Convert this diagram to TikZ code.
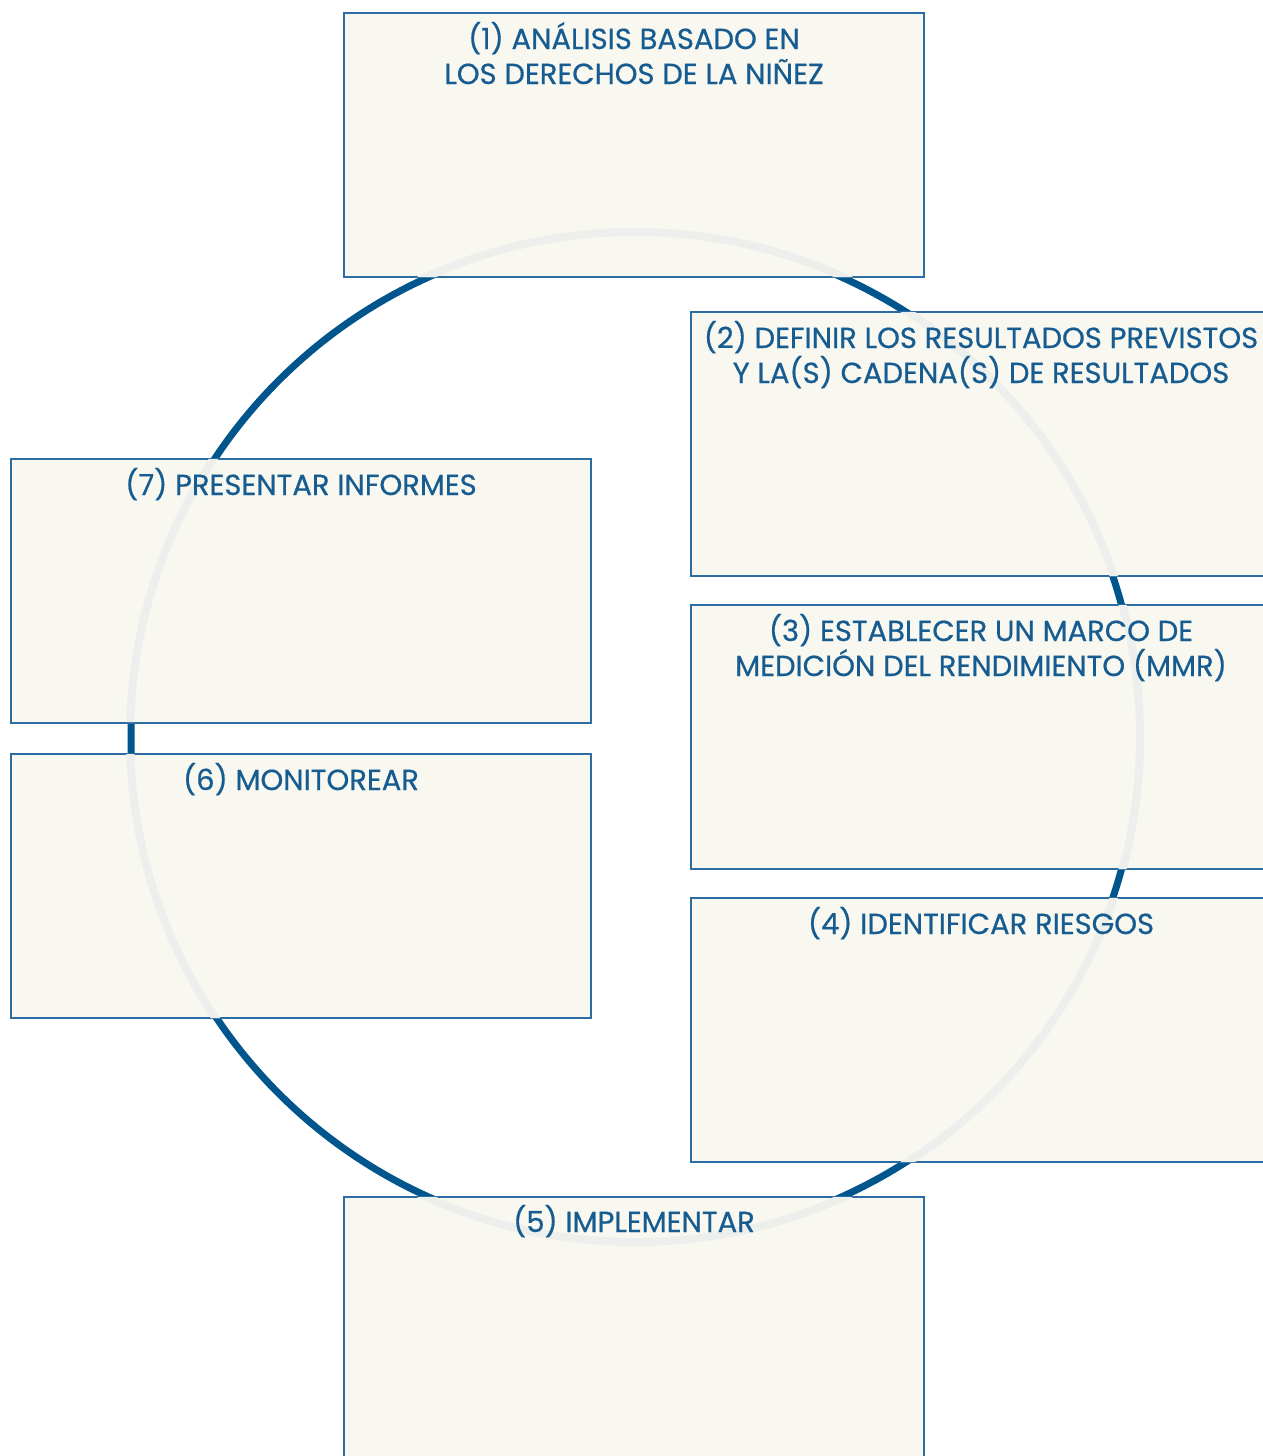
\documentclass[tikz,border=0pt]{standalone}
\usepackage{fontspec}
\newfontfamily\titlefont[FakeBold=0.6]{Poppins}
\definecolor{ringblue}{HTML}{00558C}
\definecolor{textblue}{HTML}{175C90}
\definecolor{edgeblue}{HTML}{2C6DA3}
\definecolor{boxfill}{HTML}{F8F8F0}
\definecolor{ringgray}{HTML}{ECEFEB}
\tikzset{
  stepbox/.style={draw=edgeblue, line width=1.1pt, fill=boxfill, anchor=north west,
    minimum width=580pt, minimum height=264pt, inner sep=0pt, outer sep=0pt},
  titletext/.style={anchor=base, inner sep=0pt, text=textblue,
    font=\titlefont\fontsize{29}{35}\selectfont},
}
\begin{document}
\begin{tikzpicture}[x=1pt,y=-1pt]
\useasboundingbox (0,0) rectangle (1263,1456);
\coordinate (ctr) at (635,737);
% blue ring under the boxes
\draw[ringblue, line width=7pt] (ctr) circle[radius=504pt];
% boxes
\node[stepbox] (b1) at (344,13) {};
\node[stepbox] (b2) at (691,312) {};
\node[stepbox] (b3) at (691,605) {};
\node[stepbox] (b4) at (691,898) {};
\node[stepbox] (b5) at (344,1197) {};
\node[stepbox] (b7) at (11,459) {};
\node[stepbox] (b6) at (11,754) {};
% faint ring seen through the boxes
\begin{scope}
\clip (344,13) rectangle (924,277)
      (691,312) rectangle (1271,576)
      (691,605) rectangle (1271,869)
      (691,898) rectangle (1271,1162)
      (344,1197) rectangle (924,1461)
      (11,459) rectangle (591,722)
      (11,754) rectangle (591,1018);
\draw[ringgray, line width=8pt] (ctr) circle[radius=505pt];
\end{scope}
% titles
\node[titletext] (t1a) at (634,49) {(1) ANÁLISIS BASADO EN};
\node[titletext] (t1b) at (634,84) {LOS DERECHOS DE LA NIÑEZ};
\node[titletext] (t2a) at (981,348) {(2) DEFINIR LOS RESULTADOS PREVISTOS};
\node[titletext] (t2b) at (981,383) {Y LA(S) CADENA(S) DE RESULTADOS};
\node[titletext] (t3a) at (981,641) {(3) ESTABLECER UN MARCO DE};
\node[titletext] (t3b) at (981,676) {MEDICIÓN DEL RENDIMIENTO (MMR)};
\node[titletext] (t4) at (981,934) {(4) IDENTIFICAR RIESGOS};
\node[titletext] (t5) at (634,1232) {(5) IMPLEMENTAR};
\node[titletext] (t7) at (301,495) {(7) PRESENTAR INFORMES};
\node[titletext] (t6) at (301,790) {(6) MONITOREAR};
\end{tikzpicture}
\end{document}
